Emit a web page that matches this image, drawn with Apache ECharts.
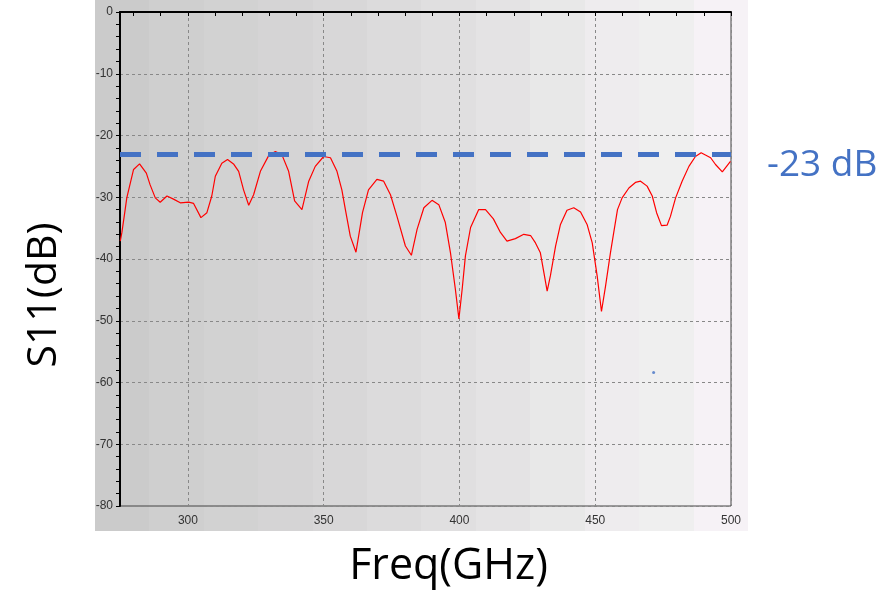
<!DOCTYPE html>
<html>
<head>
<meta charset="utf-8">
<script src="https://cdn.jsdelivr.net/npm/echarts@6/dist/echarts.min.js"></script>
<style>
  html, body { margin: 0; padding: 0; background: #fff; }
  #chart_box { width: 887px; height: 593px; }
</style>
</head>
<body>
<div id="chart_box"></div>
<script>
// frequency points (GHz)
const freq = [
  275.1, 275.7, 276.9, 277.5, 280, 282.2, 284.7, 286.1, 288, 289.8,
  292.3, 294.7, 297.2, 300.3, 302.1, 304.8, 307, 308.8, 310.1, 312.5,
  314.6, 316.8, 318.7, 320.5, 322.4, 324.2, 326.7, 329.7, 332.2, 334.6,
  337.1, 339.3, 342, 344.5, 346.9, 350, 352.5, 354.9, 356.7, 358,
  359.8, 361.9, 364.3, 366.5, 369.6, 372.1, 374.6, 377, 380.1, 382.3,
  384.4, 386.9, 389.9, 392.4, 394.8, 396.7, 398.5, 399.8, 401, 402.2,
  404.1, 407.1, 409.6, 412.5, 415.1, 417.5, 420.6, 423.7, 426.2, 428,
  429.8, 431.1, 432.3, 433.5, 435.4, 437.2, 439.6, 442.1, 444.6, 447,
  448.9, 450.7, 452.3, 453.8, 455.6, 456.9, 458.2, 459.9, 462.4, 464.8,
  466.7, 469.1, 471, 472.6, 474.4, 476.5, 477.7, 479.6, 482, 484.5,
  486.9, 489, 492.5, 494.3, 496.8, 499.8
];
// S11 (dB)
const s11 = [
  -37.1, -35.7, -32, -30.1, -25.5, -24.6, -26.1, -28, -30.1, -30.8,
  -29.8, -30.3, -30.9, -30.8, -31, -33.3, -32.5, -29.8, -26.6, -24.5,
  -23.9, -24.6, -25.8, -28.8, -31.3, -29.6, -25.8, -23.3, -22.6, -23.1,
  -25.8, -30.6, -32, -27.4, -25, -23.4, -23.6, -25.8, -28.8, -32,
  -36.3, -38.9, -32.5, -28.8, -27.1, -27.4, -29.6, -33.1, -37.9, -39.4,
  -35.2, -31.7, -30.5, -31.2, -34.1, -39, -44.9, -49.7, -44.9, -39.5,
  -34.9, -32, -32, -33.5, -35.7, -37.1, -36.7, -36, -36.2, -37.4,
  -39, -42.2, -45.2, -42.7, -37.9, -34.4, -32.1, -31.7, -32.4, -34.4,
  -37.4, -42.7, -48.5, -44.4, -39, -35.5, -32, -30.1, -28.5, -27.6,
  -27.4, -28.2, -29.8, -32.5, -34.6, -34.5, -33.1, -30.1, -27.4, -25,
  -23.4, -22.8, -23.6, -24.7, -25.9, -24.2
];
const limitDb = -23;
const xLabels = [300, 350, 400, 450, 500];
// stray blue dot in the plot
const strayDot = [[471.5, -58.4]];

// background bands, left (dark) to right (light)
const bandColors = ['#cbcbcb', '#cfcfcf', '#d2d2d2', '#d5d4d5', '#d8d7d8', '#dcdbdc',
  '#e0dfe0', '#e4e3e4', '#e8e8e8', '#eeecee', '#efefef', '#f6f2f6'];
const stops = [];
bandColors.forEach((c, i) => {
  const n = bandColors.length;
  stops.push({ offset: i / n, color: c });
  stops.push({ offset: (i + 1) / n, color: c });
});

const myChart = echarts.init(document.getElementById('chart_box'));
const tickFont = { color: '#333', fontSize: 12, fontFamily: 'Liberation Sans' };

myChart.setOption({
  animation: false,
  graphic: [{
    type: 'rect',
    z: -10,
    shape: { x: 95, y: 0, width: 653, height: 531 },
    style: { fill: new echarts.graphic.LinearGradient(0, 0, 1, 0, stops) }
  }],
  grid: {
    left: 120, top: 12, width: 611, height: 496,
    show: true, borderColor: '#444', borderWidth: 1, backgroundColor: 'transparent'
  },
  xAxis: {
    type: 'value',
    min: 275, max: 500,
    name: 'Freq(GHz)',
    nameLocation: 'middle',
    nameGap: 39,
    nameTextStyle: { fontSize: 43, color: '#000', fontFamily: 'Open Sans', padding: [0, 0, 0, 46] },
    axisLine: { lineStyle: { color: '#000', width: 2 } },
    axisTick: { show: true, length: 4, lineStyle: { color: '#000' } },
    minorTick: { show: true, splitNumber: 5, length: 4, lineStyle: { color: '#000' } },
    axisLabel: { customValues: xLabels, margin: 9, ...tickFont },
    splitLine: { show: true, lineStyle: { color: '#888', type: [3, 3], width: 1 } }
  },
  yAxis: {
    type: 'value',
    min: -80, max: 0, interval: 10,
    name: 'S11(dB)',
    nameLocation: 'middle',
    nameGap: 55,
    nameTextStyle: { fontSize: 41, color: '#000', fontFamily: 'Open Sans', padding: [0, 72, 0, 0] },
    axisLine: { show: true, lineStyle: { color: '#000', width: 2 } },
    axisTick: { show: true, length: 4, lineStyle: { color: '#000' } },
    minorTick: { show: true, splitNumber: 5, length: 4, lineStyle: { color: '#000' } },
    axisLabel: { margin: 7, ...tickFont },
    splitLine: { show: true, lineStyle: { color: '#888', type: [3, 3], width: 1 } }
  },
  series: [
    {
      type: 'line',
      data: freq.map((f, i) => [f, s11[i]]),
      showSymbol: false,
      lineStyle: { color: '#ff0000', width: 1.2 },
      markLine: {
        silent: true,
        symbol: 'none',
        lineStyle: { color: '#4472c4', width: 5, type: [21, 16] },
        label: {
          position: 'end',
          distance: 36,
          formatter: '{a|-23 dB}',
          rich: {
            a: {
              color: '#4472c4',
              fontSize: 37,
              fontFamily: 'Open Sans',
              padding: [22, 0, 0, 0]
            }
          }
        },
        data: [{ yAxis: limitDb }]
      }
    },
    {
      type: 'scatter',
      data: strayDot,
      symbolSize: 3,
      itemStyle: { color: '#4472c4' }
    }
  ]
});
</script>
</body>
</html>
